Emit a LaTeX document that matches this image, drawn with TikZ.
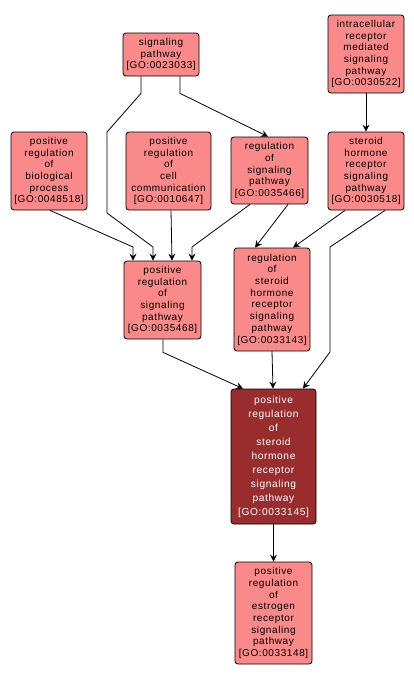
\documentclass[tikz,border=0pt]{standalone}
\usepackage{fontspec}
\setmainfont[LetterSpace=6]{Liberation Sans}
\usetikzlibrary{arrows.meta,calc}
\definecolor{lightnode}{RGB}{250,137,137}
\definecolor{darknode}{RGB}{153,45,45}
\tikzset{
  gobox/.style={draw=black, line width=0.8pt, rounded corners=3pt, fill=lightnode,
    align=center, inner sep=0pt, font=\fontsize{10}{11.7}\selectfont, text=black},
  godark/.style={gobox, fill=darknode, text=white, font=\fontsize{10.2}{14}\selectfont},
  edge/.style={draw=black, line width=0.8pt, -{Stealth[length=7pt,width=7pt,inset=2.5pt]}}
}
\begin{document}
\begin{tikzpicture}[x=1pt,y=-1pt]
\useasboundingbox[fill=white] (0,0) rectangle (414,681);
\node[gobox, minimum width=76pt, minimum height=43pt] (sig) at (161,54.5) {signaling\\pathway\\{[GO:0023033]}};
\node[gobox, minimum width=76pt, minimum height=78pt] (intra) at (366,54) {intracellular\\receptor\\mediated\\signaling\\pathway\\{[GO:0030522]}};
\node[gobox, minimum width=76pt, minimum height=78pt] (posbio) at (49,171) {positive\\regulation\\of\\biological\\process\\{[GO:0048518]}};
\node[gobox, minimum width=85pt, minimum height=78pt] (poscell) at (168.5,171) {positive\\regulation\\of\\cell\\communication\\{[GO:0010647]}};
\node[gobox, minimum width=77pt, minimum height=67pt] (regsig) at (269.5,170.5) {regulation\\of\\signaling\\pathway\\{[GO:0035466]}};
\node[gobox, minimum width=76pt, minimum height=78pt] (steroid) at (366,171) {steroid\\hormone\\receptor\\signaling\\pathway\\{[GO:0030518]}};
\node[gobox, minimum width=77pt, minimum height=78pt] (possig) at (162.5,300) {positive\\regulation\\of\\signaling\\pathway\\{[GO:0035468]}};
\node[gobox, minimum width=76pt, minimum height=103pt] (regster) at (272,299.5) {regulation\\of\\steroid\\hormone\\receptor\\signaling\\pathway\\{[GO:0033143]}};
\node[godark, minimum width=85pt, minimum height=135pt] (dark) at (273.5,456.5) {positive\\regulation\\of\\steroid\\hormone\\receptor\\signaling\\pathway\\{[GO:0033145]}};
\node[gobox, minimum width=77pt, minimum height=102pt] (est) at (273.5,613) {positive\\regulation\\of\\estrogen\\receptor\\signaling\\pathway\\{[GO:0033148]}};
% edges
\draw[edge] ([xshift=-20pt]sig.south) -- ++(0,17) -- (107,132) -- (107,213) -- (153,247) -- ([xshift=-9.5pt]possig.north);
\draw[edge] ([xshift=19pt]sig.south) -- ++(0,17) -- ([xshift=-1.5pt]regsig.north);
\draw[edge] (intra.south) -- (steroid.north);
\draw[edge] ([xshift=1pt]posbio.south) -- (133,247) -- ([xshift=-29.5pt]possig.north);
\draw[edge] ([xshift=2.5pt]poscell.south) -- ([xshift=9.5pt]possig.north);
\draw[edge] ([xshift=-19.5pt]regsig.south) -- (192,247) -- ([xshift=29.5pt]possig.north);
\draw[edge] ([xshift=18.5pt]regsig.south) -- ([xshift=-17pt]regster.north);
\draw[edge] ([xshift=-21pt]steroid.south) -- ([xshift=21pt]regster.north);
\draw[edge] ([xshift=19pt]steroid.south) -- (330,247) -- (330,352) -- ([xshift=29.5pt]dark.north);
\draw[edge] ([xshift=0.5pt]possig.south) -- ++(0,13) -- ([xshift=-30.5pt]dark.north);
\draw[edge] (regster.south) -- ([xshift=-0.5pt]dark.north);
\draw[edge] (dark.south) -- (est.north);
\end{tikzpicture}
\end{document}
